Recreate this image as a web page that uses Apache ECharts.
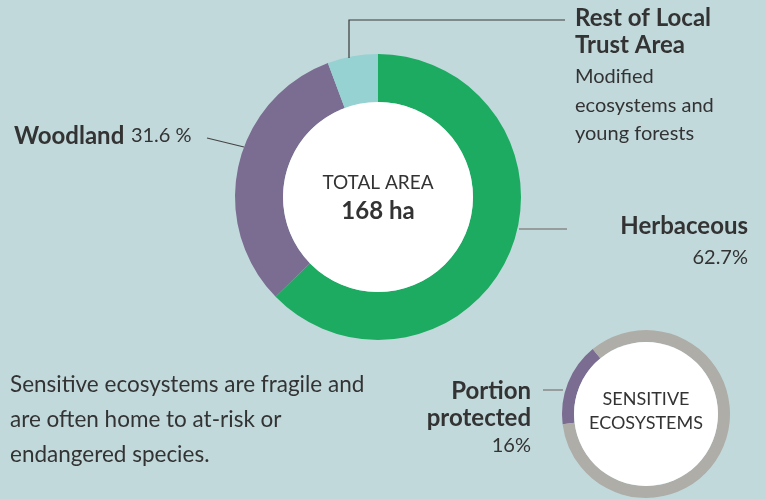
<!DOCTYPE html>
<html>
<head>
<meta charset="utf-8">
<script src="https://cdn.jsdelivr.net/npm/echarts@6/dist/echarts.min.js"></script>
<style>
  html, body { margin: 0; padding: 0; background: #c2d9dc; }
  #chart { width: 766px; height: 499px; }
</style>
</head>
<body>
<div id="chart"></div>
<script>
// land cover of the local trust area (percent)
var categories = ['Herbaceous', 'Woodland', 'Rest of Local Trust Area'];
var shares = [62.7, 31.6, 5.7];
var colors = ['#1cab61', '#7a6d91', '#96d2d1'];
var totalArea = '168 ha';

// sensitive ecosystems (percent)
var sensitiveParts = ['Portion protected', 'Not protected'];
var sensitiveShares = [16, 84];
var sensitiveColors = ['#7a6d91', '#aeada7'];

var myChart = echarts.init(document.getElementById('chart'));
var font = 'Lato, "Open Sans", sans-serif';
var ink = '#333333';

function txt(text, x, y, size, weight, align, color) {
    return {
        type: 'text',
        silent: true,
        z: 100,
        style: {
            text: text,
            x: x,
            y: y,
            fill: color || ink,
            font: (weight || 'normal') + ' ' + size + 'px ' + font,
            align: align || 'left',
            verticalAlign: 'middle'
        }
    };
}
function line(points, color, width) {
    return {
        type: 'polyline',
        silent: true,
        z: 100,
        shape: { points: points },
        style: { stroke: color, lineWidth: width || 1, fill: null }
    };
}

var mainData = categories.map(function (c, i) {
    return { name: c, value: shares[i], itemStyle: { color: colors[i] } };
});
var sensData = sensitiveParts.map(function (c, i) {
    return { name: c, value: sensitiveShares[i], itemStyle: { color: sensitiveColors[i] } };
});

var option = {
    backgroundColor: '#c2d9dc',
    animation: false,
    series: [{
        type: 'pie',
        center: [378, 197],
        radius: [95, 143],
        startAngle: 90,
        clockwise: true,
        silent: true,
        label: { show: false },
        labelLine: { show: false },
        data: mainData
    }, {
        type: 'pie',
        center: [378, 197],
        radius: [0, 95],
        silent: true,
        label: { show: false },
        data: [{ value: 1, itemStyle: { color: '#ffffff' } }]
    }, {
        type: 'pie',
        center: [646, 414],
        radius: [72, 84],
        startAngle: 187,
        clockwise: true,
        silent: true,
        label: { show: false },
        labelLine: { show: false },
        data: sensData
    }, {
        type: 'pie',
        center: [646, 414],
        radius: [0, 72],
        silent: true,
        label: { show: false },
        data: [{ value: 1, itemStyle: { color: '#ffffff' } }]
    }],
    graphic: [
        // leader lines
        line([[349, 58], [349, 20], [565, 20]], '#3a3a3a', 1.2),
        line([[207, 138], [244, 147]], '#444444', 1.2),
        line([[519, 229], [567, 229]], '#888888', 1.5),
        line([[543, 390], [563, 390]], '#888888', 1.5),

        // center of main donut
        txt('TOTAL AREA', 378, 183, 19, 'normal', 'center'),
        txt(totalArea, 378, 211, 24, 'bold', 'center'),

        // Rest of Local Trust Area
        txt('Rest of Local', 575, 18, 24, 'bold'),
        txt('Trust Area', 575, 45, 24, 'bold'),
        txt('Modified', 575, 77, 20),
        txt('ecosystems and', 575, 106, 20),
        txt('young forests', 575, 134, 20),

        // Woodland
        {
            type: 'text', silent: true, z: 100,
            style: {
                x: 14, y: 136, verticalAlign: 'middle',
                text: '{b|Woodland}  {r|' + shares[1].toFixed(1) + ' %}',
                rich: {
                    b: { font: 'bold 24px ' + font, fill: ink },
                    r: { font: 'normal 20px ' + font, fill: ink }
                }
            }
        },

        // Herbaceous
        txt('Herbaceous', 748, 226, 24, 'bold', 'right'),
        txt(shares[0].toFixed(1) + '%', 748, 258, 20, 'normal', 'right'),

        // Portion protected
        txt('Portion', 531, 391, 24, 'bold', 'right'),
        txt('protected', 531, 418, 24, 'bold', 'right'),
        txt(sensitiveShares[0] + '%', 531, 446, 20, 'normal', 'right'),

        // center of small donut
        txt('SENSITIVE', 646, 399, 18, 'normal', 'center'),
        txt('ECOSYSTEMS', 646, 423, 18, 'normal', 'center'),

        // body text
        txt('Sensitive ecosystems are fragile and', 10, 385, 22.5),
        txt('are often home to at-risk or', 10, 420, 22.5),
        txt('endangered species.', 10, 455, 22.5)
    ]
};

option && myChart.setOption(option);
</script>
</body>
</html>
